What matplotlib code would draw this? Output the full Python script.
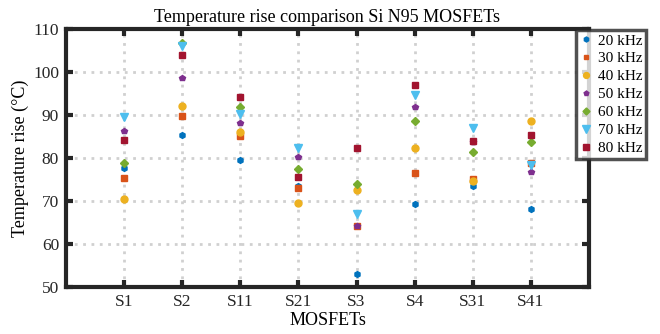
import matplotlib
matplotlib.use("Agg")
import matplotlib.pyplot as plt
import numpy as np

mosfets = ["S1", "S2", "S11", "S21", "S3", "S4", "S31", "S41"]
freq_labels = ["20 kHz", "30 kHz", "40 kHz", "50 kHz", "60 kHz", "70 kHz", "80 kHz"]

t20 = [77.8, 85.4, 79.6, 73.6, 53.0, 69.4, 73.6, 68.2]
t30 = [75.5, 89.8, 85.3, 73.2, 64.2, 76.6, 75.1, 78.8]
t40 = [70.5, 92.2, 86.1, 69.7, 72.6, 82.4, 74.8, 88.7]
t50 = [86.3, 98.6, 88.3, 80.4, 64.3, 91.9, 83.8, 76.7]
t60 = [78.9, 106.7, 91.9, 77.4, 74.0, 88.7, 81.5, 83.7]
t70 = [89.7, 106.1, 90.3, 82.3, 67.0, 94.7, 87.0, 78.4]
t80 = [84.3, 104.0, 94.2, 75.7, 82.5, 97.0, 84.1, 85.4]

series = [t20, t30, t40, t50, t60, t70, t80]
colors = ["#0072BD", "#D95319", "#EDB120", "#7E2F8E", "#77AC30", "#4DBEEE", "#A2142F"]
markers = ["h", "s", "o", "p", "D", "v", "s"]
msizes = [4.2, 3.8, 5, 4.2, 4.2, 6, 4.6]

plt.rcParams["font.family"] = ["Liberation Serif", "DejaVu Serif"]
plt.rcParams["font.size"] = 12

fig = plt.figure(figsize=(6.6, 3.34), dpi=100)
ax = fig.add_axes([66/660, 1-287.3/334, (589-66)/660, (287.3-29.3)/334])

x = np.arange(1, len(mosfets)+1)
for vals, c, m, ms, lab in zip(series, colors, markers, msizes, freq_labels):
    ax.plot(x, vals, linestyle="none", marker=m, color=c, markersize=ms, label=lab, zorder=3)

ax.set_xlim(0, 9)
ax.set_ylim(50, 110)
ax.set_xticks(x)
ax.set_xticklabels(mosfets)
ax.set_yticks(np.arange(50, 111, 10))
ax.grid(True, linestyle=(0, (1, 2)), color="#d0d0d0", linewidth=2)
ax.set_axisbelow(True)
for s in ax.spines.values():
    s.set_linewidth(3)
    s.set_color("#262626")
ax.tick_params(direction="in", length=5, width=3, color="#262626", top=True, right=True,
               labelsize=12.5, labelcolor="#262626", pad=5)
ax.set_xlabel("MOSFETs", fontsize=13, labelpad=1)
ax.set_ylabel("Temperature rise (°C)", fontsize=13, labelpad=3)
ax.set_title("Temperature rise comparison Si N95 MOSFETs", fontsize=13, pad=5)

leg = fig.legend(loc="upper left", bbox_to_anchor=(576/660, 1-30/334), frameon=True,
                 fancybox=False, fontsize=11, handlelength=0.8, handletextpad=0.4,
                 borderpad=0.25, labelspacing=0.28, borderaxespad=0, markerscale=0.85)
leg.get_frame().set_edgecolor("#262626")
leg.get_frame().set_linewidth(2.5)
leg.set_zorder(10)

fig.savefig("out.png", dpi=100)
